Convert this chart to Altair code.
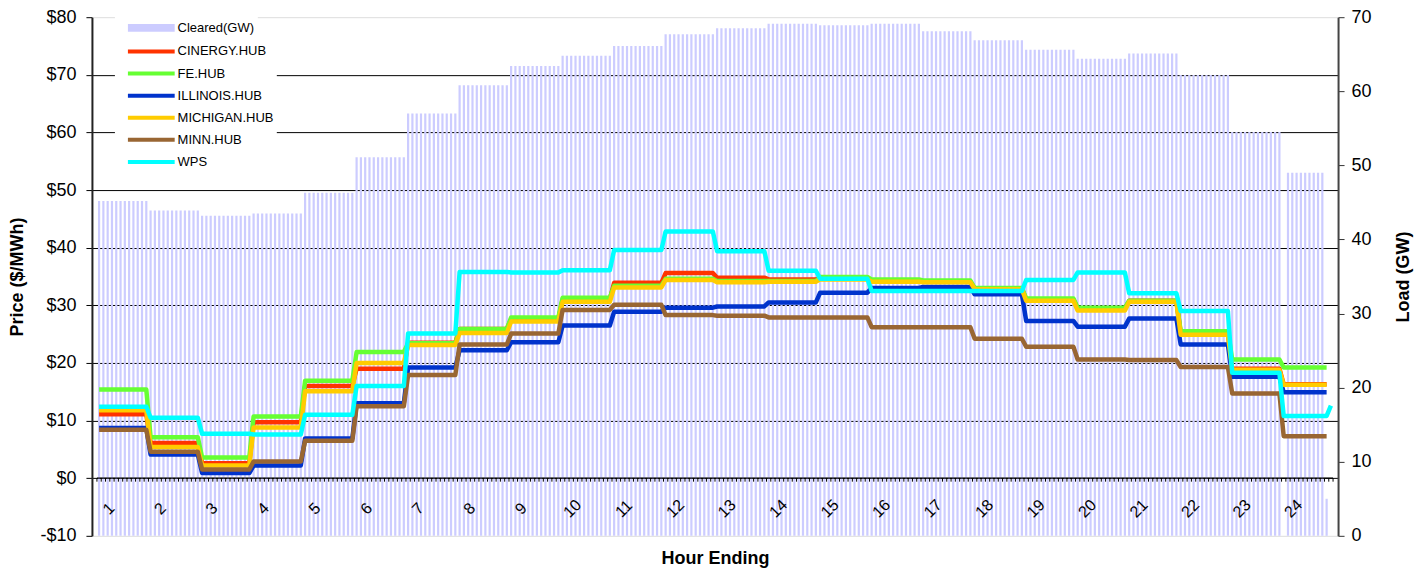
import altair as alt
import pandas as pd

SLOTS_PER_HOUR = 12
N_SLOTS = 288

hours = list(range(1, 25))

# Cleared load per hour (GW), right axis
cleared_gw = [45.2, 43.9, 43.2, 43.5, 46.3, 51.1, 57.0, 60.8, 63.4, 64.8, 66.1, 67.7,
              68.5, 69.1, 68.9, 69.1, 68.1, 66.9, 65.6, 64.4, 65.1, 62.2, 54.5, 49.0]

series_names = ["CINERGY.HUB", "FE.HUB", "ILLINOIS.HUB", "MICHIGAN.HUB", "MINN.HUB", "WPS"]
series_colors = ["#FF3300", "#66FF33", "#0033CC", "#FFCC00", "#996633", "#00FFFF"]

# Hourly prices ($/MWh)
cinergy = [11.1, 6.1, 2.6, 9.7, 16.0, 19.0, 23.5, 25.9, 27.6, 31.0, 33.9, 35.6,
           34.8, 34.5, 34.7, 34.3, 34.1, 32.9, 31.0, 29.4, 30.8, 25.2, 19.0, 16.3]
fe_hub = [15.4, 7.1, 3.6, 10.7, 16.9, 21.9, 23.4, 25.9, 27.9, 31.3, 33.4, 34.6,
          34.2, 34.2, 34.9, 34.5, 34.3, 33.0, 31.2, 29.6, 30.8, 25.5, 20.6, 19.2]
illinois = [8.7, 4.1, 0.9, 2.2, 6.9, 13.0, 19.2, 22.2, 23.6, 26.5, 28.9, 29.6,
            29.8, 30.5, 32.2, 33.0, 33.2, 31.9, 27.3, 26.3, 27.7, 23.2, 17.6, 14.9]
michigan = [11.8, 5.4, 2.2, 8.8, 15.1, 20.0, 23.1, 25.2, 27.2, 30.6, 33.1, 34.4,
            34.0, 34.1, 34.5, 34.1, 34.0, 32.8, 30.8, 29.1, 30.6, 24.9, 18.8, 16.2]
minn = [8.4, 4.6, 1.5, 2.9, 6.5, 12.5, 17.9, 23.2, 25.1, 29.2, 30.1, 28.3,
        28.2, 27.9, 27.9, 26.2, 26.2, 24.2, 22.8, 20.6, 20.5, 19.3, 14.7, 7.3]
wps = [12.4, 10.5, 7.7, 7.6, 11.0, 16.0, 25.1, 35.8, 35.7, 36.1, 39.6, 42.8,
       39.4, 36.0, 34.6, 32.5, 32.5, 32.5, 34.4, 35.7, 32.1, 29.0, 18.3, 10.8]
price_series = [cinergy, fe_hub, illinois, michigan, minn, wps]

# irregular last-hour intervals
missing_load_slots = [276, 287]
load_slot_overrides = {286: 5.0}
last_price_slot = 286
wps_extra_points = {287: 12.6}

# ---- build interval tables ----
bar_rows = []
for s in range(N_SLOTS):
    if s in missing_load_slots:
        continue
    v = load_slot_overrides.get(s, cleared_gw[s // SLOTS_PER_HOUR])
    bar_rows.append({"slot": s + 0.5, "load": v, "label": "Cleared(GW)"})
bar_df = pd.DataFrame(bar_rows)

line_rows = []
for name, vals in zip(series_names, price_series):
    for s in range(last_price_slot + 1):
        line_rows.append({"slot": s + 0.5, "price": vals[s // SLOTS_PER_HOUR], "series": name})
for s, v in wps_extra_points.items():
    line_rows.append({"slot": s + 0.5, "price": v, "series": "WPS"})
line_df = pd.DataFrame(line_rows)

tick_df = pd.DataFrame({"b": list(range(N_SLOTS + 1))})
hour_df = pd.DataFrame({"hour": hours})

FONT = "Liberation Sans"
x_scale = alt.Scale(domain=[0, N_SLOTS], nice=False, zero=False)
price_scale = alt.Scale(domain=[-10, 80], nice=False, zero=False)
load_scale = alt.Scale(domain=[0, 70], nice=False)

PLOT_H = 519

x_axis = alt.Axis(title="Hour Ending", labels=False, ticks=False, domain=False, grid=False,
                  titleFontSize=18, titleFontWeight="bold", titleFont=FONT, titleColor="black",
                  titleY=23, titleBaseline="middle", zindex=0)

price_axis = alt.Axis(orient="left", values=list(range(-10, 81, 10)),
                      labelExpr="datum.value < 0 ? '-$' + (-datum.value) : '$' + datum.value",
                      grid=True, gridColor="black", gridWidth=1,
                      gridOpacity={"condition": {"test": "datum.value == 80 || datum.value == -10", "value": 0}, "value": 1},
                      title="Price ($/MWh)", titleAngle=270, titleX=-74, titleY=PLOT_H / 2,
                      titleBaseline="middle", titleAlign="center",
                      titleFontSize=18, titleFontWeight="bold", titleFont=FONT, titleColor="black",
                      labelFontSize=18, labelFont=FONT, labelColor="black", labelPadding=10,
                      tickSize=6, tickColor="black", domainColor="#222222", domainWidth=2, zindex=0)

load_axis = alt.Axis(orient="right", values=list(range(0, 71, 10)), grid=False,
                     title="Load (GW)", titleAngle=270, titleX=65.5, titleY=PLOT_H / 2,
                     titleBaseline="middle", titleAlign="center",
                     titleFontSize=18, titleFontWeight="bold", titleFont=FONT, titleColor="black",
                     labelFontSize=18, labelFont=FONT, labelColor="black", labelPadding=7,
                     tickSize=6, tickColor="#333333", domainColor="#444444", domainWidth=2)

bars = alt.Chart(bar_df).mark_bar(size=2.2, orient="vertical").encode(
    x=alt.X("slot:Q", scale=x_scale, axis=x_axis),
    y=alt.Y("load:Q", scale=load_scale, axis=load_axis),
    fill=alt.Fill("label:N", scale=alt.Scale(domain=["Cleared(GW)"], range=["#CCCCFF"]),
                  legend=alt.Legend(orient="none", legendX=23, legendY=-3.3, title=None,
                                    symbolType="M-2.6,-0.44H2.6V0.44H-2.6Z", symbolSize=324,
                                    symbolStrokeWidth=4, symbolStrokeColor="transparent",
                                    symbolOffset=22.4, labelOffset=15.3, labelFontSize=13,
                                    labelFont=FONT, labelColor="black", padding=3,
                                    fillColor="white", rowPadding=0)),
)

zero_line = alt.Chart(pd.DataFrame({"a": [0]})).mark_rule(color="black", strokeWidth=1.2).encode(
    x=alt.X(datum=0, type="quantitative", scale=x_scale, axis=x_axis),
    x2=alt.X2(datum=N_SLOTS),
    y=alt.Y(datum=0, type="quantitative", scale=price_scale, axis=price_axis),
)

ticks = alt.Chart(tick_df).mark_rule(color="black", strokeWidth=1).encode(
    x=alt.X("b:Q", scale=x_scale, axis=x_axis),
    y=alt.Y(datum=0, type="quantitative", axis=price_axis),
    y2=alt.Y2(datum=-0.6),
)

lines = alt.Chart(line_df).mark_line(strokeWidth=4.5, strokeJoin="round").encode(
    x=alt.X("slot:Q", scale=x_scale, axis=x_axis),
    y=alt.Y("price:Q", scale=price_scale, axis=price_axis),
    stroke=alt.Stroke("series:N", scale=alt.Scale(domain=series_names, range=series_colors),
                      legend=alt.Legend(orient="none", legendX=23, legendY=20.3, title=None,
                                        symbolType="M-2.6,0H2.6", symbolSize=324, symbolStrokeWidth=4,
                                        symbolOffset=22.4, labelOffset=15.3, labelFontSize=13,
                                        labelFont=FONT, labelColor="black", padding=3,
                                        fillColor="white", rowPadding=3.1)),
)

hour_labels = alt.Chart(hour_df).transform_calculate(
    pos="(datum.hour - 1) * 12 + 2.8"
).mark_text(angle=315, fontSize=16, font=FONT, color="black", align="center", baseline="middle").encode(
    x=alt.X("pos:Q", scale=x_scale, axis=x_axis),
    y=alt.Y(datum=-5.3, type="quantitative", axis=price_axis),
    text=alt.Text("hour:N"),
)

price_layer = alt.layer(zero_line, ticks, lines, hour_labels)

chart = alt.layer(bars, price_layer).resolve_scale(y="independent").properties(
    width=1247,
    height=PLOT_H,
    padding={"left": 84, "top": 9, "right": 80, "bottom": 34},
    autosize=alt.AutoSizeParams(type="none"),
).configure_view(stroke="#808080", strokeWidth=1.5).configure(font=FONT)

chart.save("out.html", embed_options={"renderer": "svg", "actions": False})
